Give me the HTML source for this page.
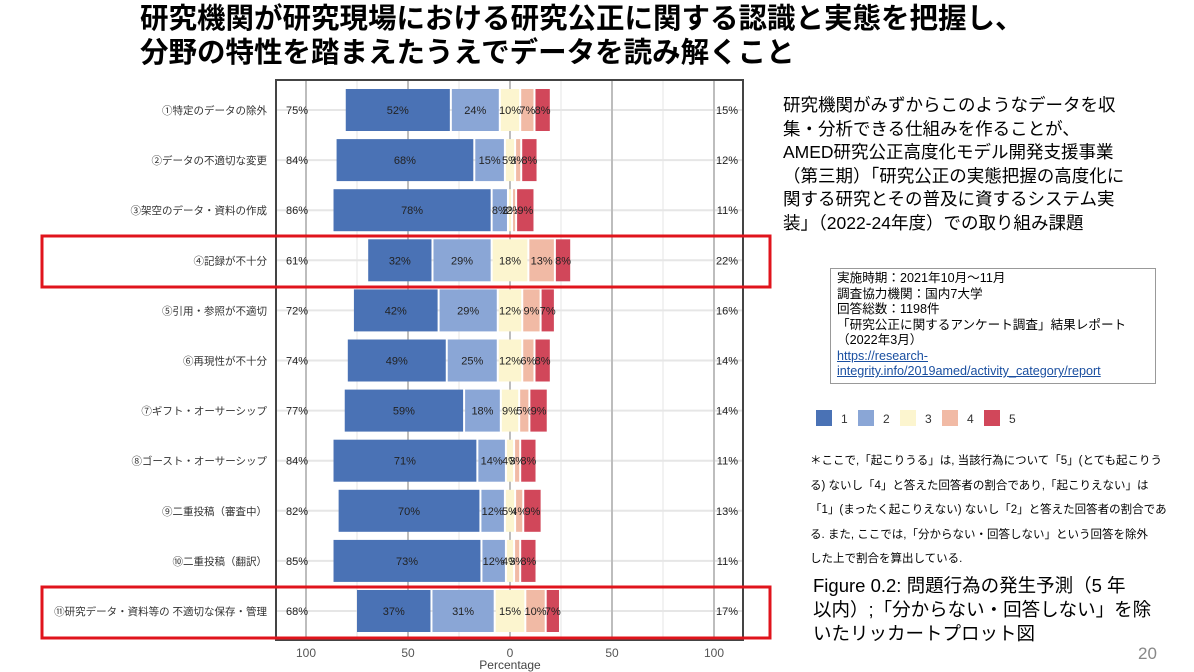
<!DOCTYPE html>
<html><head><meta charset="utf-8">
<style>
body{margin:0;width:1194px;height:672px;overflow:hidden;background:#fff;position:relative;font-family:"Liberation Sans","Noto Sans CJK JP",sans-serif;color:#000}
.abs{position:absolute}
#title{left:140px;top:2px;font-size:28.5px;font-weight:bold;line-height:34px;white-space:nowrap}
#desc{left:783px;top:94px;font-size:17.5px;line-height:23.5px;white-space:nowrap}
#info{left:830px;top:268px;width:326px;height:116px;border:1px solid #999;font-size:12.6px;line-height:15.5px;padding:2px 6px;box-sizing:border-box}
#info a{color:#1a4fa0}
#note{left:810px;top:449px;font-size:11.5px;line-height:24.6px;white-space:nowrap}
#cap{left:813px;top:574px;font-size:18.5px;line-height:24px;white-space:nowrap}
#pg{left:1138px;top:644px;font-size:17px;color:#888}
</style></head><body>
<div id="title" class="abs">研究機関が研究現場における研究公正に関する認識と実態を把握し、<br>分野の特性を踏まえたうえでデータを読み解くこと</div>
<svg id="chart" class="abs" style="left:0;top:0" width="790" height="672"></svg>
<div id="desc" class="abs">研究機関がみずからこのようなデータを収<br>集・分析できる仕組みを作ることが、<br>AMED研究公正高度化モデル開発支援事業<br>（第三期）「研究公正の実態把握の高度化に<br>関する研究とその普及に資するシステム実<br>装」（2022-24年度）での取り組み課題</div>
<div id="info" class="abs">実施時期：2021年10月～11月<br>調査協力機関：国内7大学<br>回答総数：1198件<br>「研究公正に関するアンケート調査」結果レポート<br>（2022年3月）<br><a style="text-decoration:underline">https://research-<br>integrity.info/2019amed/activity_category/report</a></div>
<svg class="abs" style="left:810px;top:405px" width="220" height="26">
<g id="leg"></g></svg>
<div id="note" class="abs">＊ここで,「起こりうる」は, 当該行為について「5」(とても起こりう<br>る) ないし「4」と答えた回答者の割合であり,「起こりえない」は<br>「1」(まったく起こりえない) ないし「2」と答えた回答者の割合であ<br>る. また, ここでは,「分からない・回答しない」という回答を除外<br>した上で割合を算出している.</div>
<div id="cap" class="abs">Figure 0.2: 問題行為の発生予測（5 年<br>以内）;「分からない・回答しない」を除<br>いたリッカートプロット図</div>
<div id="pg" class="abs">20</div>
<script>
const categories=["①特定のデータの除外","②データの不適切な変更","③架空のデータ・資料の作成","④記録が不十分","⑤引用・参照が不適切","⑥再現性が不十分","⑦ギフト・オーサーシップ","⑧ゴースト・オーサーシップ","⑨二重投稿（審査中）","⑩二重投稿（翻訳）","⑪研究データ・資料等の 不適切な保存・管理"];
const s1=[52,68,78,32,42,49,59,71,70,73,37];
const s2=[24,15,8,29,29,25,18,14,12,12,31];
const s3=[10,5,2,18,12,12,9,4,5,4,15];
const s4=[7,3,2,13,9,6,5,3,4,3,10];
const s5=[8,8,9,8,7,8,9,8,9,8,7];
const leftPct=[75,84,86,61,72,74,77,84,82,85,68];
const rightPct=[15,12,11,22,16,14,14,11,13,11,17];
const ticks=[-100,-50,0,50,100];
const minor=[-75,-25,25,75];
const colors=["#4a72b5","#8aa6d6","#fcf5cf","#f1baa5","#d1475a"];
const NS="http://www.w3.org/2000/svg";
const svg=document.getElementById('chart');
const x=v=>510+v*2.04;
const y=i=>110+i*50.1;
function mk(t,a,p){const e=document.createElementNS(NS,t);for(const k in a)e.setAttribute(k,a[k]);(p||svg).appendChild(e);return e;}
const fr=mk('rect',{x:276,y:80,width:467,height:560,fill:'none',stroke:'#444','stroke-width':2});


minor.forEach(v=>{const l=mk('line',{x1:x(v),x2:x(v),y1:81,y2:639,stroke:'#e6e6e6','stroke-width':1});

});
categories.forEach((c,i)=>{const l=mk('line',{x1:277,x2:742,y1:y(i),y2:y(i),stroke:'#e6e6e6','stroke-width':2});

});
ticks.forEach(v=>{const l=mk('line',{x1:x(v),x2:x(v),y1:81,y2:639,stroke:'#bdbdbd','stroke-width':2});


const t=mk('text',{x:x(v),y:657,'text-anchor':'middle','font-size':12,fill:'#555'});t.textContent=Math.abs(v);

});
const xt=mk('text',{x:510,y:669,'text-anchor':'middle','font-size':12,fill:'#444'});xt.textContent='Percentage';


const series=[s1,s2,s3,s4,s5];
categories.forEach((c,i)=>{
 const vals=series.map(s=>s[i]);
 let start=-(vals[0]+vals[1]+vals[2]/2);
 vals.forEach((v,k)=>{
  const r=mk('rect',{x:x(start)+1,y:y(i)-21,width:Math.max(v*2.04-2,0.5),height:42,fill:colors[k]});
  
  
  const t=mk('text',{x:x(start+v/2),y:y(i)+4,'text-anchor':'middle','font-size':11,fill:'#222'});t.textContent=v+'%';
  
  
  start+=v;
 });
 const cl=mk('text',{x:267,y:y(i)+4,'text-anchor':'end','font-size':10.5,fill:'#333'});cl.textContent=c;
 
 
 const lp=mk('text',{x:286,y:y(i)+4,'font-size':11,fill:'#222'});lp.textContent=leftPct[i]+'%';
 
 
 const rp=mk('text',{x:738,y:y(i)+4,'text-anchor':'end','font-size':11,fill:'#222'});rp.textContent=rightPct[i]+'%';
 
 
});
[[236,287],[587,638]].forEach(b=>{const r=mk('rect',{x:42,y:b[0],width:728,height:b[1]-b[0],fill:'none',stroke:'#e0141c','stroke-width':3});

});
const lg=document.getElementById('leg');
colors.forEach((c,k)=>{const r=mk('rect',{x:6+k*42,y:5,width:16,height:16,fill:c},lg);


const t=mk('text',{x:31+k*42,y:18,'font-size':12,fill:'#333'},lg);t.textContent=k+1;

});
</script>
</body></html>
